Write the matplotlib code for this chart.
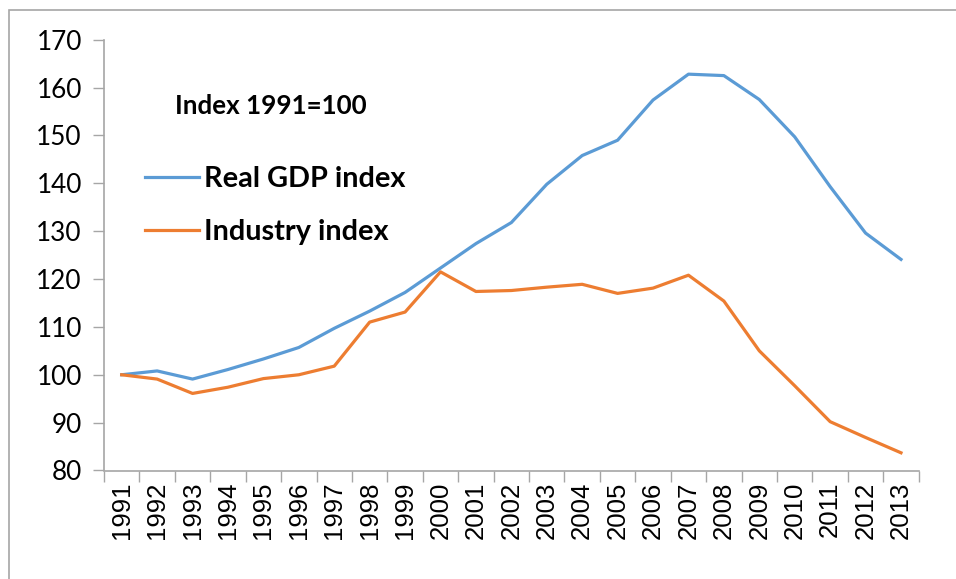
import matplotlib
matplotlib.use("Agg")
import matplotlib.pyplot as plt
from matplotlib.patches import Rectangle

years = [str(y) for y in range(1991, 2014)]
gdp_index = [100.0, 100.8, 99.1, 101.1, 103.3, 105.7, 109.7, 113.3, 117.2,
             122.3, 127.4, 131.8, 139.8, 145.8, 149.0, 157.4, 162.8, 162.5,
             157.5, 149.7, 139.3, 129.6, 124.1]
industry_index = [100.0, 99.1, 96.1, 97.4, 99.2, 100.0, 101.8, 111.0, 113.1,
                  121.5, 117.4, 117.6, 118.3, 118.9, 117.0, 118.1, 120.8, 115.4,
                  105.0, 97.7, 90.2, 86.9, 83.7]
y_ticks = list(range(80, 171, 10))

BLUE = "#5B9BD5"
ORANGE = "#ED7D31"
GRID = "#a6a6a6"
W, H = 956, 579

fig = plt.figure(figsize=(W / 100, H / 100), dpi=100)
ax = fig.add_axes([104 / W, 1 - 470.5 / H, (918.7 - 104) / W, (470.5 - 39.7) / H])

x = list(range(len(years)))
ax.plot(x, gdp_index, color=BLUE, lw=2.3, label="Real GDP index")
ax.plot(x, industry_index, color=ORANGE, lw=2.3, label="Industry index")

ax.set_xlim(-0.5, len(years) - 0.5)
ax.set_ylim(80, 170)
ax.set_yticks(y_ticks)
ax.set_yticklabels([str(v) for v in y_ticks], family="Lato", fontsize=18.8)
ax.set_xticks([i - 0.5 for i in range(len(years) + 1)], minor=False)
ax.set_xticklabels([])
ax.set_xticks(x, minor=True)
ax.set_xticklabels(years, minor=True, rotation=90, family="Liberation Sans",
                   fontsize=18.5)
ax.tick_params(axis="x", which="major", length=8, color=GRID, width=1)
ax.tick_params(axis="x", which="minor", length=0, pad=8)
ax.tick_params(axis="y", length=8, color=GRID, width=1, pad=8)
for side in ("top", "right"):
    ax.spines[side].set_visible(False)
for side in ("left", "bottom"):
    ax.spines[side].set_color(GRID)
    ax.spines[side].set_linewidth(1.2)

fig.text(175 / W, 1 - 106 / H, "Index 1991=100", family="Lato", weight="bold",
         fontsize=18.7, va="center", ha="left")

leg = ax.legend(loc="upper left", bbox_to_anchor=(145 / W, 1 - 166 / H),
                bbox_transform=fig.transFigure, frameon=False,
                prop={"family": "Lato", "weight": "bold", "size": 20.8},
                handlelength=1.87, handletextpad=0.18, labelspacing=0.95,
                borderaxespad=0, borderpad=0)

fig.patches.append(Rectangle((9 / W, -0.1), 1.2, 1 - 10 / H + 0.1,
                             transform=fig.transFigure, fill=False,
                             edgecolor=GRID, lw=1.2))

fig.savefig("out.png", dpi=100)
